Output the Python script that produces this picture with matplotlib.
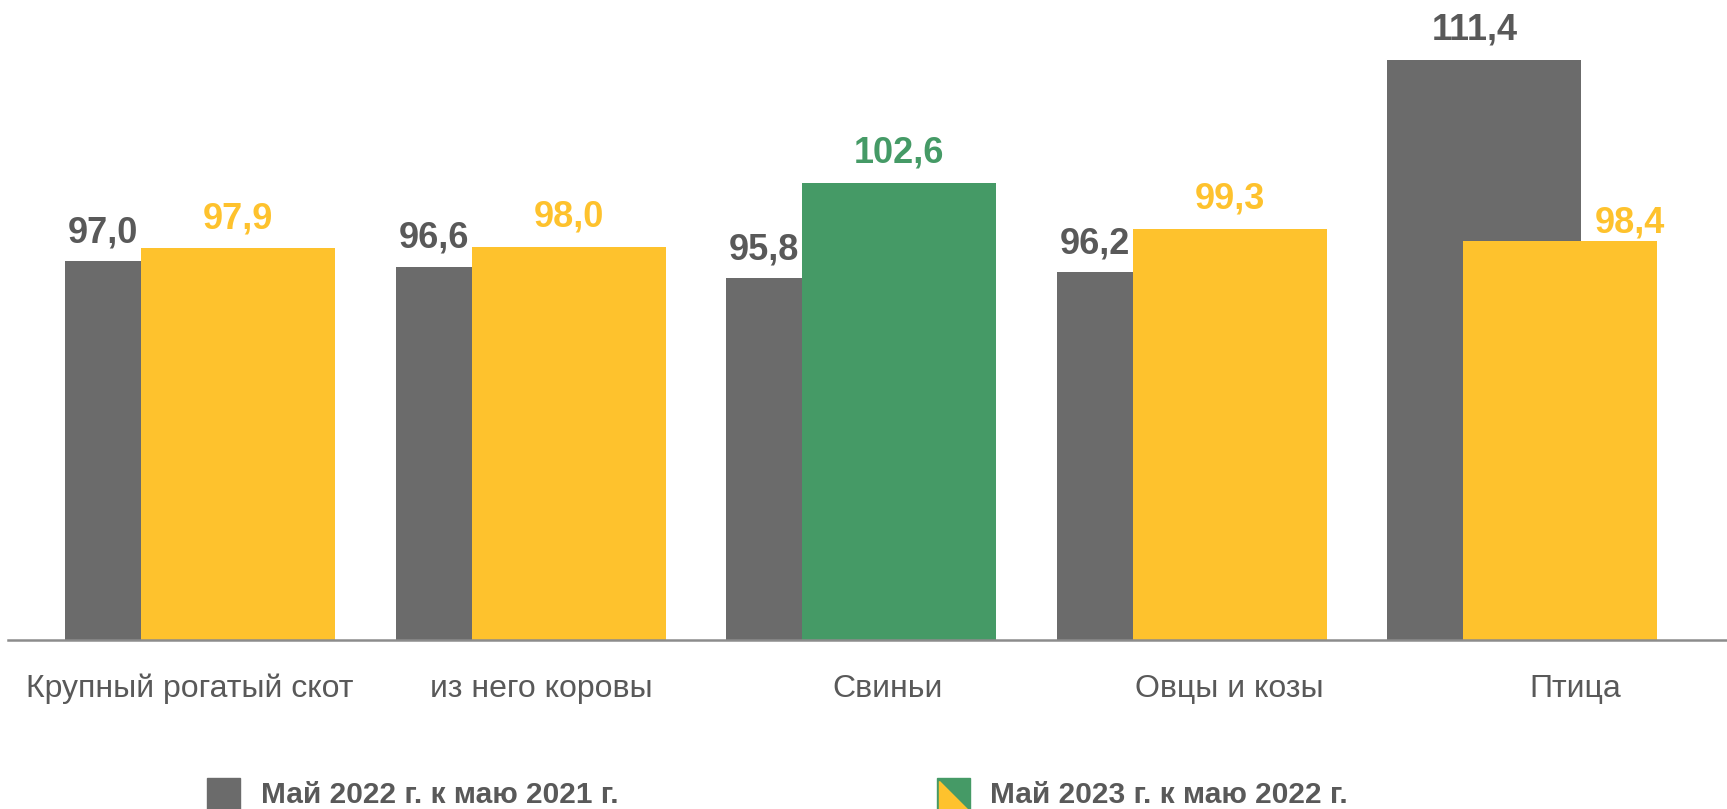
import matplotlib
matplotlib.use("Agg")
import matplotlib.pyplot as plt
from matplotlib.patches import Rectangle, Polygon

plt.rcParams['font.family'] = ['Liberation Sans', 'DejaVu Sans']

# data
categories = ['Крупный рогатый скот', 'из него коровы', 'Свиньи', 'Овцы и козы', 'Птица']
may22 = [97.0, 96.6, 95.8, 96.2, 111.4]
may23 = [97.9, 98.0, 102.6, 99.3, 98.4]
legend_labels = ['Май 2022 г. к маю 2021 г.', 'Май 2023 г. к маю 2022 г.']

GREY = '#6b6b6b'
YELLOW = '#fec22d'
GREEN = '#459a66'
TEXT = '#595959'

W, H = 1727, 809
fig = plt.figure(figsize=(W / 100, H / 100), dpi=100, facecolor='white')
ax = fig.add_axes([8 / W, (H - 640) / H, (W - 8) / W, 640 / H])

width = 0.587
off = 0.115
xs = list(range(len(categories)))
# label positions along x for the category names (they drift slightly right)
cat_pos = [-0.032, 1.033, 2.079, 3.112, 4.159]

ax.bar([x - off for x in xs], may22, width=width, color=GREY, zorder=2)
bar_cols = [GREEN if c == 'Свиньи' else YELLOW for c in categories]
ax.bar([x + off for x in xs], may23, width=width, color=bar_cols, zorder=3)

for x, a, b, col in zip(xs, may22, may23, bar_cols):
    # grey value: over the visible part if hidden behind the second bar
    if a < b:
        gx = x - off - width / 2 + off
        ya = 13.5
    else:
        gx = x - off - 0.03
        ya = 14.5
    ax.annotate(f'{a:.1f}'.replace('.', ','), (gx, a), xytext=(0, ya),
                textcoords='offset points', ha='center', va='baseline',
                fontsize=26, fontweight='bold', color=TEXT)
    if b < a:
        yx = x + off + 0.21
        yb = 6.5
    else:
        yx = x + off
        yb = 14.5
    ax.annotate(f'{b:.1f}'.replace('.', ','), (yx, b), xytext=(0, yb),
                textcoords='offset points', ha='center', va='baseline',
                fontsize=26, fontweight='bold', color=col)

for p, c in zip(cat_pos, categories):
    ax.text(p, -57 / 640, c, transform=ax.get_xaxis_transform(),
            ha='center', va='baseline', fontsize=23, color=TEXT)

ax.set_xlim(-0.581, 4.619)
ax.set_ylim(69.85, 115.7)
for s in ['top', 'right', 'left']:
    ax.spines[s].set_visible(False)
ax.spines['bottom'].set_color('#8c8c8c')
ax.spines['bottom'].set_linewidth(1.8)
ax.spines['bottom'].set_zorder(4)
ax.set_xticks([])
ax.set_yticks([])

# legend drawn by hand (it sits right at the lower edge)
def fx(px):
    return px / W

def fy(py):
    return 1 - py / H

sq = 33
fig.patches.append(Rectangle((fx(207), fy(778 + 40)), sq / W, 40 / H,
                             transform=fig.transFigure, color=GREY))
fig.patches.append(Rectangle((fx(937), fy(778 + 40)), sq / W, 40 / H,
                             transform=fig.transFigure, color=GREEN))
fig.patches.append(Polygon([(fx(939), fy(781)), (fx(939), fy(815)),
                            (fx(939 + 34), fy(815))], closed=True,
                           transform=fig.transFigure, color=YELLOW))
fig.text(fx(261), fy(803), legend_labels[0], ha='left', va='baseline',
         fontsize=21.5, fontweight='bold', color=TEXT)
fig.text(fx(990), fy(803), legend_labels[1], ha='left', va='baseline',
         fontsize=21.5, fontweight='bold', color=TEXT)

fig.savefig('out.png', dpi=100, facecolor='white')
